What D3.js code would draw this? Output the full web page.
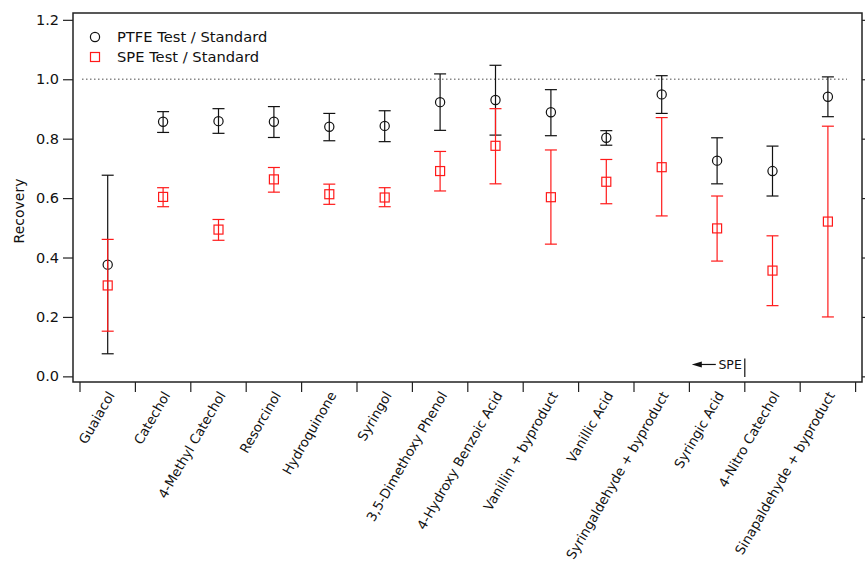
<!DOCTYPE html>
<html>
<head>
<meta charset="utf-8">
<script src="https://cdn.jsdelivr.net/npm/d3@7"></script>
<style>
  body { margin: 0; background: #fff; }
  svg { display: block; font-family: "DejaVu Sans", sans-serif; }
</style>
</head>
<body>
<main></main>
<script>
const categories = [
  "Guaiacol", "Catechol", "4-Methyl Catechol", "Resorcinol", "Hydroquinone",
  "Syringol", "3,5-Dimethoxy Phenol", "4-Hydroxy Benzoic Acid",
  "Vanillin + byproduct", "Vanillic Acid", "Syringaldehyde + byproduct",
  "Syringic Acid", "4-Nitro Catechol", "Sinapaldehyde + byproduct",
];

// PTFE Test / Standard
const ptfeMean = [0.376, 0.857, 0.859, 0.857, 0.840, 0.843, 0.923, 0.930, 0.889, 0.803, 0.949, 0.726, 0.691, 0.941];
const ptfeUpper = [0.677, 0.891, 0.901, 0.908, 0.885, 0.894, 1.018, 1.047, 0.965, 0.827, 1.012, 0.803, 0.775, 1.008];
const ptfeLower = [0.076, 0.821, 0.818, 0.804, 0.793, 0.790, 0.828, 0.812, 0.810, 0.778, 0.885, 0.648, 0.607, 0.874];

// SPE Test / Standard
const speMean = [0.306, 0.604, 0.494, 0.663, 0.613, 0.602, 0.691, 0.776, 0.603, 0.655, 0.704, 0.498, 0.356, 0.521];
const speUpper = [0.461, 0.635, 0.528, 0.703, 0.647, 0.635, 0.757, 0.901, 0.762, 0.730, 0.871, 0.607, 0.473, 0.842];
const speLower = [0.152, 0.571, 0.458, 0.620, 0.579, 0.571, 0.624, 0.648, 0.445, 0.581, 0.540, 0.388, 0.238, 0.200];

const yTicks = [0, 0.2, 0.4, 0.6, 0.8, 1.0, 1.2];

const width = 865;
const height = 561;
const frame = { left: 73, right: 862, top: 13, bottom: 382 };

const svg = d3
  .select("main")
  .append("svg")
  .attr("width", width)
  .attr("height", height);

const x = d3
  .scaleBand()
  .domain(categories)
  .range([80, 855.6]);

const y = d3
  .scaleLinear()
  .domain([-0.019, 1.223])
  .range([frame.bottom, frame.top]);

const cx = (d) => x(d) + x.bandwidth() / 2;

// frame
svg
  .append("rect")
  .attr("x", frame.left)
  .attr("y", frame.top)
  .attr("width", frame.right - frame.left)
  .attr("height", frame.bottom - frame.top)
  .attr("fill", "none")
  .attr("stroke", "#222")
  .attr("stroke-width", 1.5);

// left axis
const yAxis = svg
  .append("g")
  .attr("transform", `translate(${frame.left}, 0)`)
  .call(d3.axisLeft(y).tickValues(yTicks).tickFormat(d3.format(".1f")).tickSize(10).tickPadding(4));
yAxis.select(".domain").remove();
yAxis.selectAll("line").attr("stroke", "#222").attr("stroke-width", 1.2);
yAxis.selectAll("text").attr("font-size", 14.5).attr("fill", "#111").attr("font-family", "DejaVu Sans");

// right axis ticks
const yAxisR = svg
  .append("g")
  .attr("transform", `translate(${frame.right}, 0)`)
  .call(d3.axisRight(y).tickValues(yTicks).tickFormat("").tickSize(5));
yAxisR.select(".domain").remove();
yAxisR.selectAll("line").attr("stroke", "#222").attr("stroke-width", 1.2);

// bottom ticks at category boundaries
const bounds = categories.map((d) => x(d)).concat([x.range()[1]]);
svg
  .append("g")
  .selectAll("line")
  .data(bounds)
  .enter()
  .append("line")
  .attr("x1", (d) => d)
  .attr("x2", (d) => d)
  .attr("y1", frame.bottom)
  .attr("y2", frame.bottom + 10)
  .attr("stroke", "#222")
  .attr("stroke-width", 1.2);

// category labels
svg
  .append("g")
  .selectAll("text")
  .data(categories)
  .enter()
  .append("text")
  .attr("transform", (d) => `translate(${cx(d) + 7.5}, ${frame.bottom + 13}) rotate(-60)`)
  .attr("text-anchor", "end")
  .attr("font-size", 13.3)
  .attr("fill", "#111")
  .text((d) => d);

// y label
svg
  .append("text")
  .attr("transform", `translate(24, 211) rotate(-90)`)
  .attr("text-anchor", "middle")
  .attr("font-size", 14)
  .attr("fill", "#111")
  .text("Recovery");

// reference line at 1.0
svg
  .append("line")
  .attr("x1", 82)
  .attr("x2", 847)
  .attr("y1", y(1))
  .attr("y2", y(1))
  .attr("stroke", "#888")
  .attr("stroke-width", 1.5)
  .attr("stroke-dasharray", "1.5,2.5");

function errorBars(g, mean, upper, lower, color) {
  const rows = categories.map((c, i) => ({ c, m: mean[i], hi: upper[i], lo: lower[i] }));
  const bars = g.selectAll("g").data(rows).enter().append("g");
  bars
    .append("line")
    .attr("x1", (d) => cx(d.c))
    .attr("x2", (d) => cx(d.c))
    .attr("y1", (d) => y(d.hi))
    .attr("y2", (d) => y(d.lo))
    .attr("stroke", color)
    .attr("stroke-width", 1.2);
  ["hi", "lo"].forEach((k) => {
    bars
      .append("line")
      .attr("x1", (d) => cx(d.c) - 6)
      .attr("x2", (d) => cx(d.c) + 6)
      .attr("y1", (d) => y(d[k]))
      .attr("y2", (d) => y(d[k]))
      .attr("stroke", color)
      .attr("stroke-width", 1.2);
  });
  return bars;
}

const ptfe = errorBars(svg.append("g"), ptfeMean, ptfeUpper, ptfeLower, "#111");
ptfe
  .append("circle")
  .attr("cx", (d) => cx(d.c))
  .attr("cy", (d) => y(d.m))
  .attr("r", 4.6)
  .attr("fill", "none")
  .attr("stroke", "#111")
  .attr("stroke-width", 1.2);

const spe = errorBars(svg.append("g"), speMean, speUpper, speLower, "#ff1a1a");
spe
  .append("rect")
  .attr("x", (d) => cx(d.c) - 4.5)
  .attr("y", (d) => y(d.m) - 4.5)
  .attr("width", 9)
  .attr("height", 9)
  .attr("fill", "none")
  .attr("stroke", "#ff1a1a")
  .attr("stroke-width", 1.2);

// legend
const legend = svg.append("g").attr("transform", "translate(95, 37)");
legend
  .append("circle")
  .attr("r", 4.6)
  .attr("fill", "none")
  .attr("stroke", "#111")
  .attr("stroke-width", 1.2);
legend
  .append("text")
  .attr("x", 22)
  .attr("y", 5)
  .attr("font-size", 14.7)
  .attr("fill", "#111")
  .text("PTFE Test / Standard");
legend
  .append("rect")
  .attr("x", -4.5)
  .attr("y", 20 - 4.5)
  .attr("width", 9)
  .attr("height", 9)
  .attr("fill", "none")
  .attr("stroke", "#ff1a1a")
  .attr("stroke-width", 1.2);
legend
  .append("text")
  .attr("x", 22)
  .attr("y", 25)
  .attr("font-size", 14.7)
  .attr("fill", "#111")
  .text("SPE Test / Standard");

// SPE tag: boundary after Syringic Acid
const tagX = x("4-Nitro Catechol");
const tagY = y(0.04);
const tag = svg.append("g");
tag
  .append("line")
  .attr("x1", tagX)
  .attr("x2", tagX)
  .attr("y1", tagY - 6)
  .attr("y2", frame.bottom - 5)
  .attr("stroke", "#111")
  .attr("stroke-width", 1.2);
tag
  .append("text")
  .attr("x", tagX - 3)
  .attr("y", tagY + 4.5)
  .attr("text-anchor", "end")
  .attr("font-size", 12.5)
  .attr("fill", "#111")
  .text("SPE");
tag
  .append("line")
  .attr("x1", tagX - 53 + 6)
  .attr("x2", tagX - 29)
  .attr("y1", tagY)
  .attr("y2", tagY)
  .attr("stroke", "#111")
  .attr("stroke-width", 1.2);
tag
  .append("path")
  .attr("d", `M${tagX - 53},${tagY} l10,-3 l0,6 z`)
  .attr("fill", "#111");
</script>
</body>
</html>
